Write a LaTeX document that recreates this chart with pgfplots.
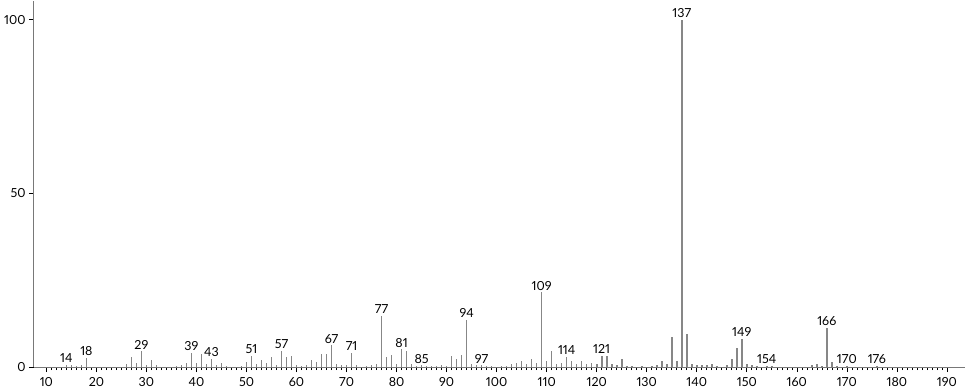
\documentclass[border=0pt]{standalone}
\usepackage{pgfplots}
\pgfplotsset{compat=1.18}
\usepackage{fontspec}
\setmainfont{Lato}[Numbers=Proportional]
\definecolor{peak}{RGB}{135,135,135}
\definecolor{axgray}{RGB}{120,120,120}
\begin{document}
\fontsize{12.5}{14}\selectfont
\begin{tikzpicture}
\begin{axis}[
  width=930bp, height=366bp, scale only axis,
  xmin=7.5, xmax=193.7, ymin=0, ymax=105.5,
  axis lines=left,
  axis line style={-, axgray, line width=1.2bp},
  every outer x axis line/.append style={-},
  every outer y axis line/.append style={-},
  xtick={10,20,...,190}, minor x tick num=9,
  ytick={0,50,100},
  tick align=outside,
  major tick length=5bp, minor tick length=3bp,
  tick style={black, line width=0.6bp},
  every tick label/.append style={font=\fontsize{12.5}{14}\selectfont},
  /pgf/number format/assume math mode=true,
  xticklabel style={yshift=-1bp},
  yticklabel style={xshift=1bp},
  clip=false,
]
\addplot[ycomb, peak, line width=1.6bp, mark=none] coordinates {
(14,0.6) (15,0.5) (16,0.4) (17,0.7) (18,2.6)
(26,1.0) (27,3.0) (28,1.1) (29,4.6) (30,0.6) (31,2.0) (32,0.6)
(36,0.4) (37,0.5) (38,1.3) (39,4.1) (40,1.3) (41,3.8) (42,0.8) (43,2.4) (44,0.7) (45,1.3) (46,0.4)
(49,0.4) (50,1.6) (51,3.2) (52,1.0) (53,2.0) (54,1.3) (55,3.0) (56,0.6) (57,4.6) (58,3.0) (59,3.2) (60,0.6)
(61,0.3) (62,0.7) (63,2.1) (64,1.6) (65,3.7) (66,3.8) (67,6.3) (68,0.9) (69,0.5) (70,0.7)
(71,4.1) (72,0.5) (74,0.4) (75,0.5) (76,1.0) (77,14.8) (78,3.0) (79,3.4) (80,0.9)
(81,5.1) (82,4.8) (83,0.9) (84,0.4) (85,0.5) (86,0.3) (87,0.4) (88,0.3) (89,0.5) (90,0.4)
(91,3.2) (92,2.4) (93,3.4) (94,13.7) (95,0.9) (96,0.5) (97,0.5) (98,0.3) (99,0.4)
(101,0.3) (102,0.4) (103,0.8) (104,1.1) (105,1.7) (106,1.0) (107,2.4) (108,1.1) (109,21.5) (110,1.8)
(111,4.8) (112,1.0) (113,1.1) (114,3.0) (115,1.7) (116,0.8) (117,1.7) (118,0.8) (119,1.2) (120,0.9)
(121,3.2) (122,3.2) (123,1.0) (124,0.5) (125,2.3) (126,0.4) (127,0.3) (129,0.3)
(131,0.4) (132,0.7) (133,1.7) (134,1.0) (135,8.6) (136,1.8) (137,100) (138,9.5) (139,1.0) (140,0.5)
(141,0.5) (142,0.7) (143,1.0) (144,0.3) (146,0.5) (147,2.4) (148,5.4) (149,8.2) (150,1.0)
(151,0.5) (152,0.4) (154,0.4) (155,0.3)
(163,0.6) (164,0.9) (165,0.4) (166,11.3) (167,1.4) (168,0.4) (170,0.3) (176,0.3)
};
\addplot[draw=none, mark=none, point meta=explicit symbolic,
  nodes near coords, every node near coord/.append style={anchor=south, inner sep=1bp, yshift=1bp, text=black, font=\fontsize{12.5}{14}\selectfont}]
coordinates {
(14,0.6) [14] (18,2.6) [18] (29,4.6) [29] (39,4.1) [39] (43,2.4) [43]
(51,3.2) [51] (57,4.6) [57] (67,6.3) [67] (71,4.1) [71] (77,14.8) [77]
(81,5.1) [81] (85,0.5) [85] (94,13.7) [94] (97,0.5) [97] (109,21.5) [109]
(114,3.0) [114] (121,3.2) [121] (137,100) [137] (149,8.2) [149] (154,0.4) [154]
(166,11.3) [166] (170,0.3) [170] (176,0.3) [176]
};
\end{axis}
\end{tikzpicture}
\end{document}
